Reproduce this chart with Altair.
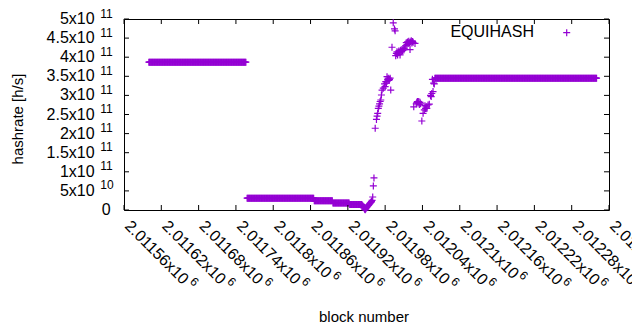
import altair as alt
import pandas as pd

# ---------------- data ----------------
series_name = "EQUIHASH"
x_title = "block number"
y_title = "hashrate [h/s]"

# runs of consecutive blocks that share one hashrate value
run_first = [2011600, 2011758, 2011866, 2011896, 2011923, 2012060]
run_last = [2011756, 2011865, 2011895, 2011922, 2011942, 2012320]
run_value = [3.87e11, 3.1e10, 2.4e10, 1.85e10, 1.45e10, 3.45e11]

# single blocks in the transitions
point_block = [
    2011943, 2011944, 2011945, 2011946, 2011947, 2011948, 2011949, 2011950,
    2011951, 2011952, 2011953, 2011954, 2011955, 2011956, 2011957, 2011958,
    2011959, 2011960, 2011961, 2011962,
    2011964, 2011966, 2011967, 2011968, 2011969, 2011970, 2011971, 2011972,
    2011973, 2011974, 2011975, 2011977, 2011979, 2011980, 2011981, 2011982,
    2011983, 2011984, 2011985, 2011986, 2011987, 2011988, 2011989,
    2011991, 2011993, 2011995, 2011996, 2011997, 2011998, 2011999, 2012000,
    2012001, 2012002, 2012003, 2012004, 2012005, 2012006, 2012007, 2012008,
    2012009, 2012010, 2012011, 2012013, 2012014, 2012015, 2012016, 2012017,
    2012018, 2012019, 2012020, 2012021, 2012022, 2012023, 2012024, 2012025,
    2012028,
    2012026, 2012030, 2012031, 2012032, 2012033, 2012034, 2012035, 2012036,
    2012037, 2012039, 2012041, 2012043, 2012044, 2012045, 2012046, 2012047,
    2012049, 2012051, 2012053, 2012054, 2012055, 2012056, 2012057, 2012058,
    2012059,
]
point_value = [
    1.3e10, 1.1e10, 8e9, 5e9, 2e9, 5e8, 3e9, 6e9,
    8e9, 1.0e10, 1.2e10, 1.4e10, 1.6e10, 1.8e10, 2.0e10, 2.2e10,
    2.5e10, 3.4e10, 6.3e10, 8.4e10,
    2.14e11, 2.37e11, 2.46e11, 2.53e11, 2.66e11, 2.72e11, 2.78e11, 2.84e11,
    2.88e11, 3.01e11, 3.14e11, 3.19e11, 3.30e11, 3.23e11, 3.36e11, 3.32e11,
    3.49e11, 3.42e11, 3.45e11, 3.39e11, 3.42e11, 3.45e11, 3.14e11,
    4.26e11, 4.90e11, 4.74e11, 4.69e11, 4.04e11, 4.10e11, 4.14e11, 4.06e11,
    4.12e11, 4.16e11, 4.13e11, 4.06e11, 4.18e11, 4.15e11, 4.20e11, 4.17e11,
    4.23e11, 4.19e11, 4.22e11, 4.30e11, 4.38e11, 4.33e11, 4.40e11, 4.36e11,
    4.42e11, 4.38e11, 4.20e11, 4.40e11, 4.43e11, 4.37e11, 4.41e11, 4.39e11,
    4.36e11,
    2.70e11, 2.78e11, 2.82e11, 2.84e11, 2.80e11, 2.84e11, 2.76e11, 2.82e11,
    2.78e11, 2.33e11, 2.53e11, 2.62e11, 2.73e11, 2.66e11, 2.70e11, 2.66e11,
    2.75e11, 2.77e11, 3.00e11, 2.97e11, 3.05e11, 3.42e11, 3.10e11, 3.32e11,
    3.30e11,
]

x_ticks = [2011560, 2011620, 2011680, 2011740, 2011800, 2011860, 2011920,
           2011980, 2012040, 2012100, 2012160, 2012220, 2012280, 2012340]
x_tick_mantissa = ["2.01156", "2.01162", "2.01168", "2.01174", "2.0118",
                   "2.01186", "2.01192", "2.01198", "2.01204", "2.0121",
                   "2.01216", "2.01222", "2.01228", "2.01234"]
x_tick_exponent = "6"

y_ticks = [0, 5e10, 1e11, 1.5e11, 2e11, 2.5e11, 3e11, 3.5e11, 4e11, 4.5e11, 5e11]
y_tick_mantissa = ["0", "5", "1", "1.5", "2", "2.5", "3", "3.5", "4", "4.5", "5"]
y_tick_exponent = ["", "10", "11", "11", "11", "11", "11", "11", "11", "11", "11"]

x_domain = [2011560, 2012340]
y_domain = [0, 5e11]

# ---------------- tables ----------------
rows = []
for a, b, v in zip(run_first, run_last, run_value):
    for blk in range(a, b + 1):
        rows.append((blk, v))
rows += list(zip(point_block, point_value))
df = pd.DataFrame(rows, columns=["block", "hashrate"]).sort_values("block")

xt = pd.DataFrame({"block": x_ticks,
                   "base": [m + "x10" for m in x_tick_mantissa],
                   "exp": [x_tick_exponent] * len(x_ticks)})
yt = pd.DataFrame({"hashrate": y_ticks,
                   "base": [m + "x10" if e else m for m, e in zip(y_tick_mantissa, y_tick_exponent)],
                   "exp": y_tick_exponent})

# ---------------- styling ----------------
W, H = 485, 191
FONT = "Liberation Sans"
FS = 16
FSS = 12
FST = 15
PURPLE = "#9400d3"
TICK = 5
GAP = 5.7
XGAP = 1.5
CW = {c: 0.556 for c in "0123456789"}
CW.update({".": 0.278, "x": 0.5})


def text_w(s, fs):
    return sum(CW.get(c, 0.556) for c in s) * fs


xs = alt.X("block:Q", scale=alt.Scale(domain=x_domain, nice=False, zero=False), axis=None)
ys = alt.Y("hashrate:Q", scale=alt.Scale(domain=y_domain, nice=False), axis=None)

points = alt.Chart(df).mark_point(
    shape="M-1,0H1M0,-1V1", filled=False, size=49, strokeWidth=1.2,
    color=PURPLE, opacity=1
).encode(x=xs, y=ys)

tick_l = alt.Chart(yt).mark_rule(color="black").encode(y=ys, x=alt.value(0), x2=alt.value(TICK))
tick_r = alt.Chart(yt).mark_rule(color="black").encode(y=ys, x=alt.value(W - TICK), x2=alt.value(W))
tick_b = alt.Chart(xt).mark_rule(color="black").encode(x=xs, y=alt.value(H), y2=alt.value(H - TICK))
tick_t = alt.Chart(xt).mark_rule(color="black").encode(x=xs, y=alt.value(0), y2=alt.value(TICK))

ylab_base = alt.Chart(yt).transform_filter(alt.datum.exp != "").mark_text(
    align="right", baseline="middle", font=FONT, fontSize=FS, color="black"
).encode(y=ys, x=alt.value(-29.4), text="base:N")
ylab_exp = alt.Chart(yt).transform_filter(alt.datum.exp != "").mark_text(
    align="left", baseline="middle", font=FONT, fontSize=FSS, dy=-5.5, color="black"
).encode(y=ys, x=alt.value(-29.4 + GAP), text="exp:N")
ylab_zero = alt.Chart(yt).transform_filter(alt.datum.exp == "").mark_text(
    align="right", baseline="middle", font=FONT, fontSize=FS, color="black"
).encode(y=ys, x=alt.value(-13.4), text="base:N")

XLAB_Y = 208
xlab_base = alt.Chart(xt).mark_text(
    align="left", baseline="alphabetic", angle=45, font=FONT, fontSize=FS, color="black"
).encode(x=xs, y=alt.value(XLAB_Y), text="base:N")

xlab_exp_layers = []
for n in sorted(set(len(b) for b in xt["base"])):
    sub = xt[xt["base"].str.len() == n]
    dx = text_w(sub["base"].iloc[0], FS) + XGAP
    xlab_exp_layers.append(
        alt.Chart(sub).mark_text(
            align="left", baseline="alphabetic", angle=45, font=FONT, fontSize=FSS,
            dx=dx, dy=-7, color="black"
        ).encode(x=xs, y=alt.value(XLAB_Y), text="exp:N")
    )

lab_df = pd.DataFrame({"name": [series_name], "xt": [x_title], "yt": [y_title]})
legend_text = alt.Chart(lab_df).mark_text(
    align="right", baseline="middle", font=FONT, fontSize=FS, color="black"
).encode(x=alt.value(410), y=alt.value(12.7), text="name:N")
legend_sym = alt.Chart(lab_df).mark_point(
    shape="M-1,0H1M0,-1V1", filled=False, size=49, strokeWidth=1.2,
    color=PURPLE, opacity=1
).encode(x=alt.value(442.7), y=alt.value(13.7))
x_title_t = alt.Chart(lab_df).mark_text(
    align="center", baseline="alphabetic", font=FONT, fontSize=FST, color="black"
).encode(x=alt.value(240), y=alt.value(302.5), text="xt:N")
y_title_t = alt.Chart(lab_df).mark_text(
    align="center", baseline="middle", angle=270, font=FONT, fontSize=FST, color="black"
).encode(x=alt.value(-106.5), y=alt.value(100), text="yt:N")

chart = alt.layer(
    points, tick_l, tick_r, tick_b, tick_t,
    ylab_base, ylab_exp, ylab_zero, xlab_base, *xlab_exp_layers,
    legend_text, legend_sym, x_title_t, y_title_t
).properties(
    width=W, height=H,
    padding={"left": 116, "top": 11, "right": 23, "bottom": 112},
    autosize=alt.AutoSizeParams(type="none"),
    background="white",
).configure_view(stroke="black", strokeWidth=1)

chart.save("out.html", embed_options={"renderer": "svg", "actions": False})
